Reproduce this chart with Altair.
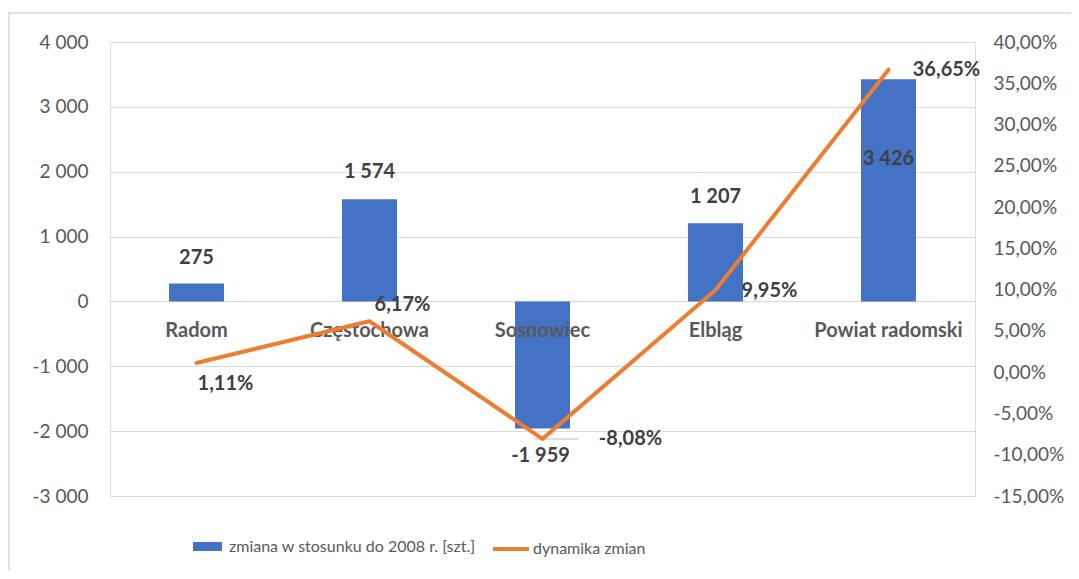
import altair as alt
import pandas as pd

# ---- data ----
categories = ["Radom", "Częstochowa", "Sosnowiec", "Elbląg", "Powiat radomski"]
zmiana = [275, 1574, -1959, 1207, 3426]
dynamika = [1.11, 6.17, -8.08, 9.95, 36.65]
left_ticks = [-3000, -2000, -1000, 0, 1000, 2000, 3000, 4000]
right_ticks = [-15, -10, -5, 0, 5, 10, 15, 20, 25, 30, 35, 40]
bar_series = "zmiana w stosunku do 2008 r. [szt.]"
line_series = "dynamika zmian"

# ---- label placement (styling only) ----
bar_label_dy = [-26, -27, 28, -26, 80]
bar_label_dx = [0, 0, -2, 0, 0]
line_label_dx = [29, 33, 88, 54, 58]
line_label_dy = [21, -16, 0, 1, 0]

FONT = "Lato"
BLUE = "#4472C4"
ORANGE = "#ED7D31"
GRID = "#D9D9D9"
AXIS_TXT = "#595959"
LABEL_TXT = "#404040"


def fmt_int(v):
    return f"{v:,}".replace(",", " ")


def fmt_pct(p):
    return f"{p:.2f}".replace(".", ",") + "%"


df = pd.DataFrame({
    "cat": categories,
    "zmiana": zmiana,
    "dynamika": dynamika,
    "zmiana_lbl": [fmt_int(v) for v in zmiana],
    "dyn_lbl": [fmt_pct(p) for p in dynamika],
    "s_bar": [bar_series] * len(categories),
    "s_line": [line_series] * len(categories),
})

x_enc = alt.X("cat:N", sort=categories, axis=None,
              scale=alt.Scale(paddingInner=0, paddingOuter=0))

left_scale = alt.Scale(domain=[-3000, 4000], nice=False, zero=False)
right_scale = alt.Scale(domain=[-15, 40], nice=False, zero=False)

left_axis = alt.Axis(
    values=left_ticks, title=None, domain=False, ticks=False,
    grid=True, gridColor=GRID, gridWidth=1,
    labelFont=FONT, labelFontSize=19, labelColor=AXIS_TXT, labelPadding=22,
    labelExpr="(datum.value < 0 ? '-' : '') + replace(format(abs(datum.value), ','), ',', ' ')",
)
right_axis = alt.Axis(
    values=right_ticks, title=None, domain=False, ticks=False, grid=False,
    orient="right",
    labelFont=FONT, labelFontSize=19, labelColor=AXIS_TXT, labelPadding=18,
    labelExpr="(datum.value < 0 ? '-' : '') + replace(format(abs(datum.value), '.2f'), '.', ',') + '%'",
)

base = alt.Chart(df)

# ---- decorative outer border ----
border = alt.Chart(alt.Data(values=[{"k": 1}])).mark_rect(
    fill=None, stroke=GRID, strokeWidth=1.5
).encode(
    x=alt.value(-101), x2=alt.value(1000),
    y=alt.value(-29), y2=alt.value(1000),
)

bars = base.mark_bar(size=55).encode(
    x=x_enc,
    y=alt.Y("zmiana:Q", scale=left_scale, axis=left_axis),
    color=alt.Color(
        "s_bar:N", scale=alt.Scale(range=[BLUE]),
        legend=alt.Legend(
            title=None, orient="none", legendX=83, legendY=490, padding=0,
            symbolType="M-1,-0.31H1V0.31H-1Z", symbolSize=841,
            symbolStrokeWidth=0, labelFont=FONT, labelFontSize=16,
            labelColor=AXIS_TXT, labelOffset=7, labelLimit=0,
        ),
    ),
)

cat_labels = base.mark_text(
    font=FONT, fontSize=20, fontWeight="bold", color=AXIS_TXT,
    baseline="middle", dy=30,
).encode(x=x_enc, y=alt.datum(0), text="cat:N")

bar_label_layers = []
for i, c in enumerate(categories):
    bar_label_layers.append(
        base.transform_filter(alt.FieldEqualPredicate(field="cat", equal=c))
        .mark_text(font=FONT, fontSize=20, fontWeight="bold", color=LABEL_TXT,
                   baseline="middle", dy=bar_label_dy[i], dx=bar_label_dx[i])
        .encode(x=x_enc, y=alt.Y("zmiana:Q", scale=left_scale), text="zmiana_lbl:N")
    )

left_layer = alt.layer(border, bars, cat_labels, *bar_label_layers)

line = base.mark_line(strokeWidth=4, strokeJoin="round", strokeCap="round").encode(
    x=x_enc,
    y=alt.Y("dynamika:Q", scale=right_scale, axis=right_axis),
    stroke=alt.Stroke(
        "s_line:N", scale=alt.Scale(range=[ORANGE]),
        legend=alt.Legend(
            title=None, orient="none", legendX=381, legendY=487, padding=0,
            symbolType="stroke", symbolSize=1296, symbolStrokeWidth=4,
            labelFont=FONT, labelFontSize=16, labelColor=AXIS_TXT, labelOffset=2,
            labelLimit=0,
        ),
    ),
)

leader = base.transform_filter(
    alt.FieldEqualPredicate(field="cat", equal="Sosnowiec")
).mark_tick(orient="horizontal", size=44, thickness=1, color="#A6A6A6").encode(
    x=x_enc,
    y=alt.Y("dynamika:Q", scale=right_scale),
    xOffset=alt.value(101),
)

line_label_layers = []
for i, c in enumerate(categories):
    line_label_layers.append(
        base.transform_filter(alt.FieldEqualPredicate(field="cat", equal=c))
        .mark_text(font=FONT, fontSize=20, fontWeight="bold", color=LABEL_TXT,
                   baseline="middle", dx=line_label_dx[i], dy=line_label_dy[i])
        .encode(x=x_enc, y=alt.Y("dynamika:Q", scale=right_scale), text="dyn_lbl:N")
    )

right_layer = alt.layer(leader, line, *line_label_layers)

chart = alt.layer(left_layer, right_layer).resolve_scale(
    y="independent"
).properties(
    width=865, height=454,
    autosize=alt.AutoSizeParams(type="none"),
    padding={"left": 102, "top": 34, "right": 96, "bottom": 75},
).configure_view(stroke=None).configure(background="white")

chart.save("out.html", embed_options={"renderer": "svg", "actions": False})
